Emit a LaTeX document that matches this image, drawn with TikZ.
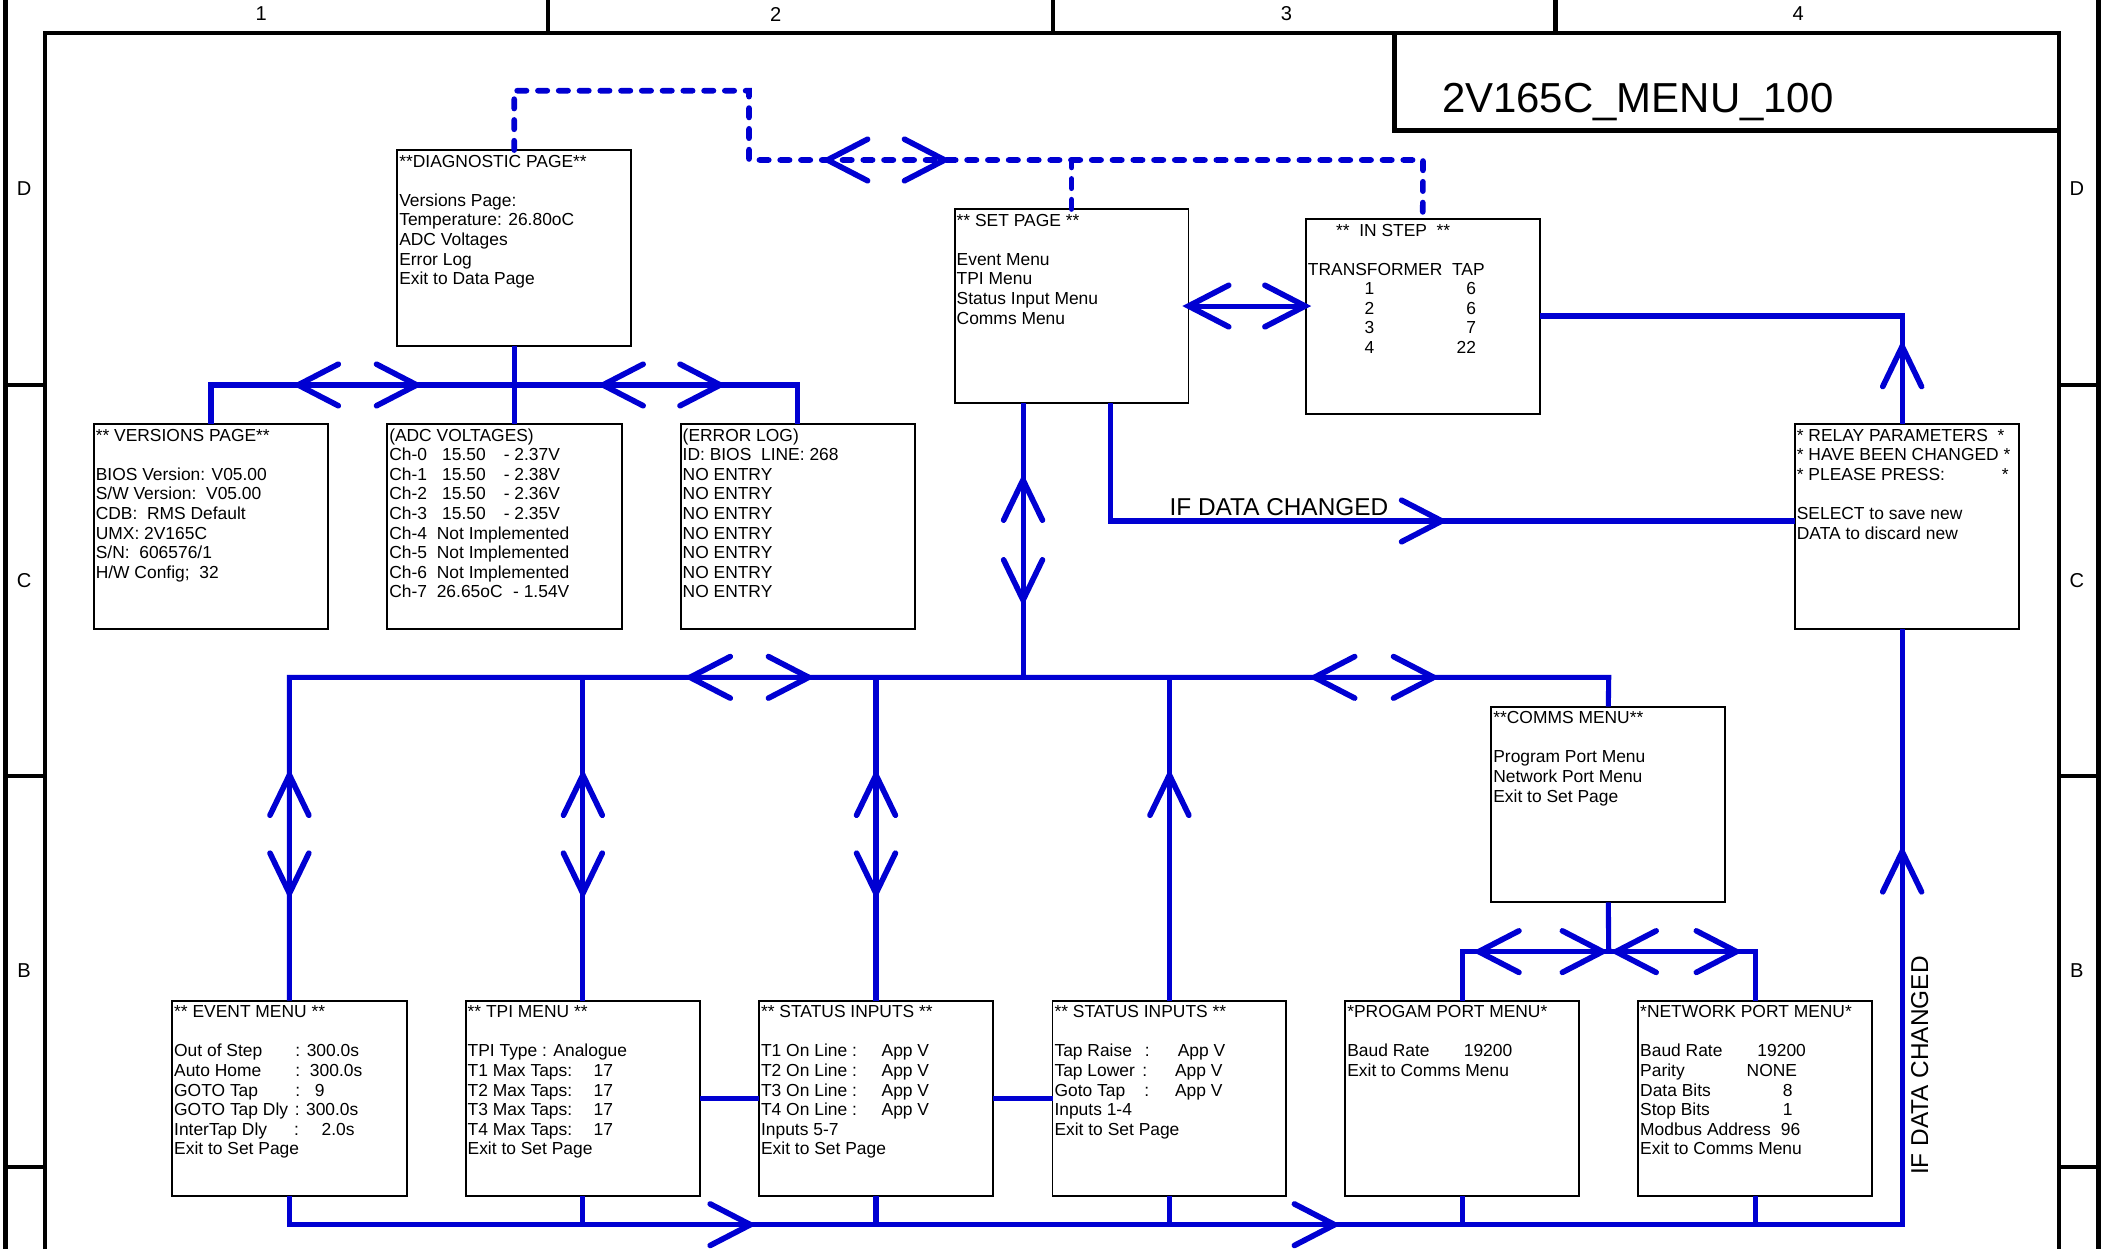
\documentclass[tikz,border=0pt]{standalone}
\usepackage{fontspec}
\setmainfont{Liberation Sans}
\definecolor{bl}{RGB}{0,0,210}
\tikzset{
  box/.style={draw=black, line width=1.4pt, inner sep=0pt, outer sep=0pt, anchor=north west},
  txt/.style={anchor=north west, inner sep=0pt, outer sep=0pt, align=left, font=\fontsize{13}{14.6}\selectfont},
  wire/.style={draw=bl, line width=3.8pt},
  chev/.style={draw=bl, line width=4.2pt, line cap=round, line join=miter},
  dline/.style={draw=bl, line width=4.2pt, line cap=round, dash pattern=on 7pt off 8.5pt},
  frame/.style={draw=black, line width=3.4pt},
  lbl/.style={inner sep=0pt, font=\fontsize{15}{17}\selectfont},
}
\newcommand\chL[2]{\draw[chev] (#1,#2) ++(30,-15.5) -- ++(-30,15.5) -- ++(30,15.5);}
\newcommand\chR[2]{\draw[chev] (#1,#2) ++(-30,-15.5) -- ++(30,15.5) -- ++(-30,15.5);}
\newcommand\chU[2]{\draw[chev] (#1,#2) ++(-14.5,30) -- ++(14.5,-30) -- ++(14.5,30);}
\newcommand\chD[2]{\draw[chev] (#1,#2) ++(-14.5,-30) -- ++(14.5,30) -- ++(14.5,-30);}
\newcommand\fst{\rule{0pt}{10.8pt}}
\begin{document}
\begin{tikzpicture}[x=1pt,y=-1pt]
\useasboundingbox (0,0) rectangle (1568,932.15);
% ---------- frame ----------
\draw[frame] (4.3,0) -- (4.3,932.15);
\draw[frame] (33.5,932.15) -- (33.5,24.5) -- (1536.5,24.5) -- (1536.5,932.15);
\draw[frame] (1566,0) -- (1566,932.15);
\foreach \xx in {409,786,1161} \draw[frame] (\xx,0) -- (\xx,24.5);
\foreach \yy in {287.3,579,871} {
  \draw[frame] (4.3,\yy) -- (33.5,\yy);
  \draw[frame] (1536.5,\yy) -- (1566,\yy);
}
\draw[frame] (1040.7,24.5) -- (1040.7,97.4) -- (1536.5,97.4);
\node[lbl] (c1) at (195,10.5) {1};
\node[lbl] (c2) at (579,10.5) {2};
\node[lbl] (c3) at (960,10.5) {3};
\node[lbl] (c4) at (1342,10.5) {4};
\node[lbl] (rDl) at (18,141) {D};
\node[lbl] (rCl) at (18,433) {C};
\node[lbl] (rBl) at (18,724) {B};
\node[lbl] (rDr) at (1550,141) {D};
\node[lbl] (rCr) at (1550,433) {C};
\node[lbl] (rBr) at (1550,724) {B};
\node[anchor=base west, inner sep=0pt, font=\fontsize{31.3}{36}\selectfont] (title) at (1076,84) {2V165C\_MENU\_100};

% ---------- boxes ----------
\node[box, minimum width=174.5pt, minimum height=146pt] (diag) at (296.5,112) {};
\node[box, minimum width=175pt, minimum height=153pt] (vers) at (70,316.5) {};
\node[box, minimum width=175pt, minimum height=153pt] (adc) at (289,316.5) {};
\node[box, minimum width=175pt, minimum height=153pt] (err) at (508,316.5) {};
\node[box, minimum width=174.5pt, minimum height=145pt] (setp) at (712.5,156) {};
\node[box, minimum width=174.4pt, minimum height=145.6pt] (instep) at (974.6,163.4) {};
\node[box, minimum width=167pt, minimum height=153pt] (relay) at (1339.6,316.5) {};
\node[box, minimum width=174.6pt, minimum height=146pt] (comms) at (1113,527.4) {};
\node[box, minimum width=175pt, minimum height=146pt] (event) at (128.5,746.8) {};
\node[box, minimum width=175pt, minimum height=146pt] (tpi) at (347.5,746.8) {};
\node[box, minimum width=174.5pt, minimum height=146pt] (stat1) at (566.5,746.8) {};
\node[box, minimum width=174.5pt, minimum height=146pt] (stat2) at (785.5,746.8) {};
\node[box, minimum width=174.6pt, minimum height=146pt] (prog) at (1004,746.8) {};
\node[box, minimum width=174.4pt, minimum height=146pt] (net) at (1222.6,746.8) {};

% ---------- texts ----------
\node[txt] (diagT) at ([xshift=1.5pt,yshift=-2pt]diag.north west) {\fst**DIAGNOSTIC PAGE**\\[14.6pt]
Versions Page:\\Temperature: 26.80oC\\ADC Voltages\\Error Log\\Exit to Data Page};
\node[txt] (versT) at ([xshift=1.5pt,yshift=-2pt]vers.north west) {\fst** VERSIONS PAGE**\\[14.6pt]
BIOS Version: V05.00\\S/W Version:~~V05.00\\CDB:~~RMS Default\\UMX: 2V165C\\S/N:~~606576/1\\H/W Config;~~32};
\node[txt] (adcT) at ([xshift=1.5pt,yshift=-2pt]adc.north west) {\fst(ADC VOLTAGES)\\
\makebox[39.5pt][l]{Ch-0}\makebox[46pt][l]{15.50}- 2.37V\\
\makebox[39.5pt][l]{Ch-1}\makebox[46pt][l]{15.50}- 2.38V\\
\makebox[39.5pt][l]{Ch-2}\makebox[46pt][l]{15.50}- 2.36V\\
\makebox[39.5pt][l]{Ch-3}\makebox[46pt][l]{15.50}- 2.35V\\
\makebox[35.5pt][l]{Ch-4}Not Implemented\\
\makebox[35.5pt][l]{Ch-5}Not Implemented\\
\makebox[35.5pt][l]{Ch-6}Not Implemented\\
\makebox[35.5pt][l]{Ch-7}\makebox[57pt][l]{26.65oC}- 1.54V};
\node[txt] (errT) at ([xshift=1.5pt,yshift=-2pt]err.north west) {\fst(ERROR LOG)\\ID: BIOS~~LINE: 268\\
NO ENTRY\\NO ENTRY\\NO ENTRY\\NO ENTRY\\NO ENTRY\\NO ENTRY\\NO ENTRY};
\node[txt] (setpT) at ([xshift=1.5pt,yshift=-2pt]setp.north west) {\fst** SET PAGE **\\[14.6pt]
Event Menu\\TPI Menu\\Status Input Menu\\Comms Menu};
\node[txt] (instepT) at ([xshift=1.5pt,yshift=-2pt]instep.north west) {\fst\hspace{21pt}**~~IN STEP~~**\\[14.6pt]
TRANSFORMER~~TAP\\
\makebox[49.5pt][r]{1}\makebox[76pt][r]{6}\\
\makebox[49.5pt][r]{2}\makebox[76pt][r]{6}\\
\makebox[49.5pt][r]{3}\makebox[76pt][r]{7}\\
\makebox[49.5pt][r]{4}\makebox[76pt][r]{22}};
\node[txt] (relayT) at ([xshift=1.4pt,yshift=-2pt]relay.north west) {\fst* RELAY PARAMETERS~~*\\
* HAVE BEEN CHANGED *\\
\makebox[158pt][l]{* PLEASE PRESS:\hfill*}\\[14.6pt]
SELECT to save new\\DATA to discard new};
\node[txt] (commsT) at ([xshift=1.5pt,yshift=-2pt]comms.north west) {\fst**COMMS MENU**\\[14.6pt]
Program Port Menu\\Network Port Menu\\Exit to Set Page};
\node[txt] (eventT) at ([xshift=1.5pt,yshift=-2pt]event.north west) {\fst** EVENT MENU **\\[14.6pt]
\makebox[90.5pt][l]{Out of Step}: 300.0s\\
\makebox[90.5pt][l]{Auto Home}:~~300.0s\\
\makebox[90.5pt][l]{GOTO Tap}:~~~9\\
\makebox[90pt][l]{GOTO Tap Dly}: 300.0s\\
\makebox[89.5pt][l]{InterTap Dly}:\hspace{17pt}2.0s\\
Exit to Set Page};
\node[txt] (tpiT) at ([xshift=1.5pt,yshift=-2pt]tpi.north west) {\fst** TPI MENU **\\[14.6pt]
TPI Type : Analogue\\
\makebox[94pt][l]{T1 Max Taps:}17\\
\makebox[94pt][l]{T2 Max Taps:}17\\
\makebox[94pt][l]{T3 Max Taps:}17\\
\makebox[94pt][l]{T4 Max Taps:}17\\
Exit to Set Page};
\node[txt] (stat1T) at ([xshift=1.5pt,yshift=-2pt]stat1.north west) {\fst** STATUS INPUTS **\\[14.6pt]
\makebox[90pt][l]{T1 On Line :}App V\\
\makebox[90pt][l]{T2 On Line :}App V\\
\makebox[90pt][l]{T3 On Line :}App V\\
\makebox[90pt][l]{T4 On Line :}App V\\
Inputs 5-7\\Exit to Set Page};
\node[txt] (stat2T) at ([xshift=1.5pt,yshift=-2pt]stat2.north west) {\fst** STATUS INPUTS **\\[14.6pt]
\makebox[67.5pt][l]{Tap Raise}\makebox[24.5pt][l]{:}App V\\
\makebox[65.5pt][l]{Tap Lower}\makebox[24.5pt][l]{:}App V\\
\makebox[67pt][l]{Goto Tap}\makebox[23pt][l]{:}App V\\
Inputs 1-4\\Exit to Set Page};
\node[txt] (progT) at ([xshift=1.5pt,yshift=-2pt]prog.north west) {\fst*PROGAM PORT MENU*\\[14.6pt]
\makebox[87pt][l]{Baud Rate}19200\\Exit to Comms Menu};
\node[txt] (netT) at ([xshift=1.5pt,yshift=-2pt]net.north west) {\fst*NETWORK PORT MENU*\\[14.6pt]
\makebox[87.5pt][l]{Baud Rate}19200\\
\makebox[79.5pt][l]{Parity}NONE\\
\makebox[106.5pt][l]{Data Bits}8\\
\makebox[106.5pt][l]{Stop Bits}1\\
\makebox[105pt][l]{Modbus Address}96\\
Exit to Comms Menu};

% ---------- helper coordinates ----------
\coordinate (dA) at (384,67.7);
\coordinate (dB) at (559,67.7);
\coordinate (dC) at (559,119.4);
\coordinate (dD) at (1062,119.4);
\coordinate (b1) at (384,287.3);
\coordinate (si) at (0,228.4);
\coordinate (ir) at (1419.6,235.8);
\coordinate (sr) at (828.6,388.8);
\coordinate (mb) at (763.5,505.5);
\coordinate (mbL) at (216,505.5);
\coordinate (mbR) at (1200.6,505.5);
\coordinate (pb) at (1200.6,710.2);
\coordinate (bb) at (1419.6,914);

% ---------- connectors ----------
\draw[dline] (diag.north) -- (diag.north |- dA) -- (dB) -- (dC) -- (dD) -- (instep.north);
\draw[dline] (setp.north) -- (setp.north |- dC);
\draw[wire] (diag.south) -- (diag.south |- adc.north);
\draw[wire] (vers.north) -- (vers.north |- b1) -- (err.north |- b1) -- (err.north);
\draw[wire] (setp.east |- si) -- (instep.west |- si);
\draw[wire] (instep.east |- ir) -- (ir) -- (relay.north -| ir);
\draw[wire] (setp.south -| sr) -- (sr) -- (relay.west |- sr);
\draw[wire] (setp.south -| mb) -- (mb);
\draw[wire] (event.north) -- (event.north |- mbL) -- (mbR) -- (comms.north);
\draw[wire] (tpi.north) -- (tpi.north |- mbL);
\draw[wire] (stat1.north) -- (stat1.north |- mbL);
\draw[wire] (stat2.north) -- (stat2.north |- mbL);
\draw[wire] (tpi.east) -- (stat1.west);
\draw[wire] (stat1.east) -- (stat2.west);
\draw[wire] (comms.south) -- (pb);
\draw[wire] (prog.north) -- (prog.north |- pb) -- (net.north |- pb) -- (net.north);
\draw[wire] (event.south) -- (event.south |- bb) -- (bb) -- (relay.south -| bb);
\foreach \n in {tpi,stat1,stat2,prog,net} \draw[wire] (\n.south) -- (\n.south |- bb);

% ---------- labels ----------
\node[anchor=base west, inner sep=0pt, font=\fontsize{18.2}{20}\selectfont] (ifdc1) at (872.7,384.8) {IF DATA CHANGED};
\node[anchor=base west, inner sep=0pt, rotate=90, font=\fontsize{18.2}{20}\selectfont] (ifdc2) at (1439,877) {IF DATA CHANGED};

% ---------- chevrons ----------
\chL{617.5}{119.4} \chR{705}{119.4}
\chL{222.5}{287.3} \chR{311}{287.3} \chL{450}{287.3} \chR{537.5}{287.3}
\chL{887}{228.4} \chR{974}{228.4}
\chU{1419.6}{258.5}
\chR{1076}{388.8}
\chU{763.5}{358.2} \chD{763.5}{447.8}
\chL{515}{505.5} \chR{603.5}{505.5} \chL{981}{505.5} \chR{1070}{505.5}
\foreach \xx in {216,435,653.75} {\chU{\xx}{578.4} \chD{\xx}{666.7}}
\chU{872.75}{578.4}
\chL{1103.6}{710.2} \chR{1196}{710.2} \chL{1206}{710.2} \chR{1296}{710.2}
\chR{560}{914} \chR{996}{914}
\chU{1419.6}{635.6}
\end{tikzpicture}
\end{document}
